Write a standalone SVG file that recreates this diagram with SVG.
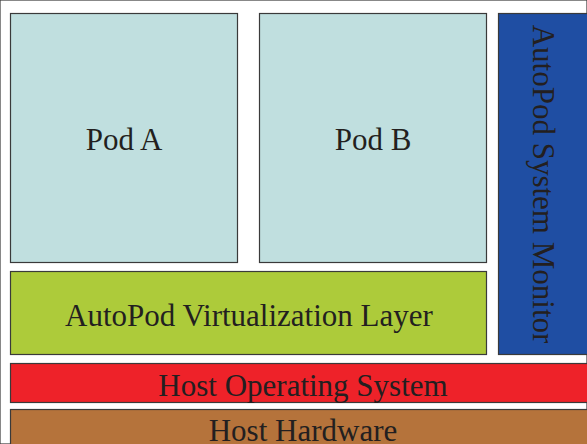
<svg xmlns="http://www.w3.org/2000/svg" width="587" height="444" viewBox="0 0 587 444">
<style>
rect{stroke:#3a3a3a;stroke-width:1.2}
text{font-family:"Liberation Serif","Times New Roman",serif;font-size:31px;fill:#231f20;text-anchor:middle}
</style>
<rect x="0" y="0" width="587" height="444" fill="#fff" stroke="none"/>
<g id="podA"><rect x="10.5" y="13.5" width="227" height="249" fill="#c0dfdf"/><text x="124" y="150">Pod A</text></g>
<g id="podB"><rect x="259.5" y="13.5" width="227" height="249" fill="#c0dfdf"/><text x="373" y="150">Pod B</text></g>
<g id="monitor"><rect x="498.5" y="13.5" width="92" height="341" fill="#1f4ea3"/><text transform="translate(533 184) rotate(90)" x="0" y="0">AutoPod System Monitor</text></g>
<g id="virt"><rect x="10.5" y="271.5" width="476" height="83" fill="#adcb3a"/><text x="249" y="326">AutoPod Virtualization Layer</text></g>
<g id="hostos"><rect x="10.5" y="363.5" width="580" height="39" fill="#ee2229"/><text x="303" y="396">Host Operating System</text></g>
<g id="hw"><rect x="10.5" y="409.5" width="580" height="40" fill="#b5733b"/><text x="303" y="441">Host Hardware</text></g>
<g id="connectors"></g>
</svg>
